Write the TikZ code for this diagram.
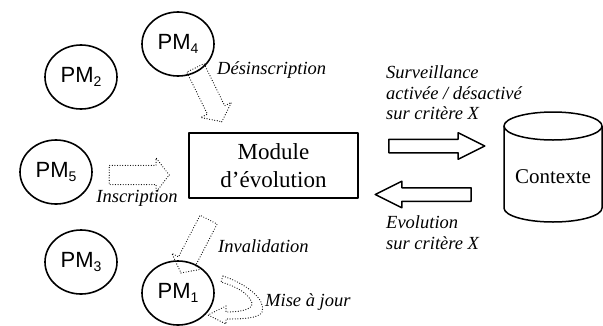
\documentclass[tikz,border=0pt]{standalone}
\usepackage{fontspec}
\setmainfont{Liberation Serif}
\newfontfamily\pmfont{Liberation Sans}
\usetikzlibrary{shapes.geometric,shapes.arrows}

% PM label with its index set lower and smaller
\newcommand{\pmname}[1]{{\pmfont\fontsize{22}{22}\selectfont PM\raisebox{-4pt}{\fontsize{14}{14}\selectfont #1}}}

\begin{document}
\begin{tikzpicture}[x=1pt, y=-1pt, line join=round,
	pm/.style={ellipse, draw, line width=1.6pt, minimum width=72pt, minimum height=64pt, inner sep=0pt},
	modbox/.style={draw, line width=1.6pt, minimum width=169pt, minimum height=65pt, align=center, font=\fontsize{23}{28}\selectfont},
	lbl/.style={font=\fontsize{18.5}{20.5}\selectfont\itshape, inner sep=0pt, align=left},
	bigarrow/.style={single arrow, draw, line width=1.5pt, inner xsep=0pt, inner ysep=6pt, single arrow head extend=6.5pt, single arrow tip angle=53, single arrow head indent=0pt, minimum height=96pt},
	dotline/.style={line width=1.2pt, line cap=round, dash pattern=on 0pt off 2.6pt},
	dotarrow/.style={single arrow, draw, dotline, inner xsep=0pt, inner ysep=9pt, single arrow head extend=7.5pt, single arrow tip angle=105, single arrow head indent=0pt, minimum height=60pt}]
	\useasboundingbox (0,0) rectangle (603,325);

	% the PMs
	\node[pm] (pm4) at (178,44) {\pmname{4}};
	\node[pm] (pm2) at (81,77) {\pmname{2}};
	\node[pm] (pm5) at (56,172) {\pmname{5}};
	\node[pm] (pm3) at (81,262) {\pmname{3}};
	\node[pm] (pm1) at (178,293) {\pmname{1}};

	\node[modbox] (mod) at (273.5,165.5) {Module\\d’évolution};

	% context store
	\node[font=\fontsize{21}{21}\selectfont, inner sep=0pt] (ctx) at (553,177) {Contexte};
	\draw[line width=1.5pt] (553,126) ellipse (49pt and 14pt);
	\draw[line width=1.5pt] (504,126) -- (504,208) arc[start angle=180, end angle=360, x radius=49pt, y radius=14pt] -- (602,126);

	% exchanges with the context
	\node[bigarrow] (surv) at (430,146) {};
	\node[bigarrow, rotate=180] (evol) at (430,194.5) {};
	\node[lbl, anchor=west] (survtxt) at (386,93) {Surveillance\\activée / désactivé\\sur critère X};
	\node[lbl, anchor=west] (evoltxt) at (386,232.5) {Evolution\\sur critère X};

	% PM events
	\node[dotarrow, rotate=-63.9] (desinsc) at (207,91.5) {};
	\node[dotarrow] (insc) at (135.5,175) {};
	\node[dotarrow, rotate=-117.4] (inval) at (196.5,243) {};
	\draw[dotline] (223,276) .. controls (252,286) and (266,302) .. (262,312) .. controls (259,318) and (245,319) .. (226,319) -- (226,324) -- (208,315) -- (226,306) -- (226,312) .. controls (242,312) and (253,309) .. (252,303) .. controls (249,294) and (238,287) .. (221,282) -- cycle;

	\node[lbl, anchor=west] (desinsctxt) at (217,70) {Désinscription};
	\node[lbl] (insctxt) at (137,198) {Inscription};
	\node[lbl, anchor=west] (invaltxt) at (218,246) {Invalidation};
	\node[lbl, anchor=west] (majtxt) at (265,302) {Mise à jour};
\end{tikzpicture}
\end{document}
